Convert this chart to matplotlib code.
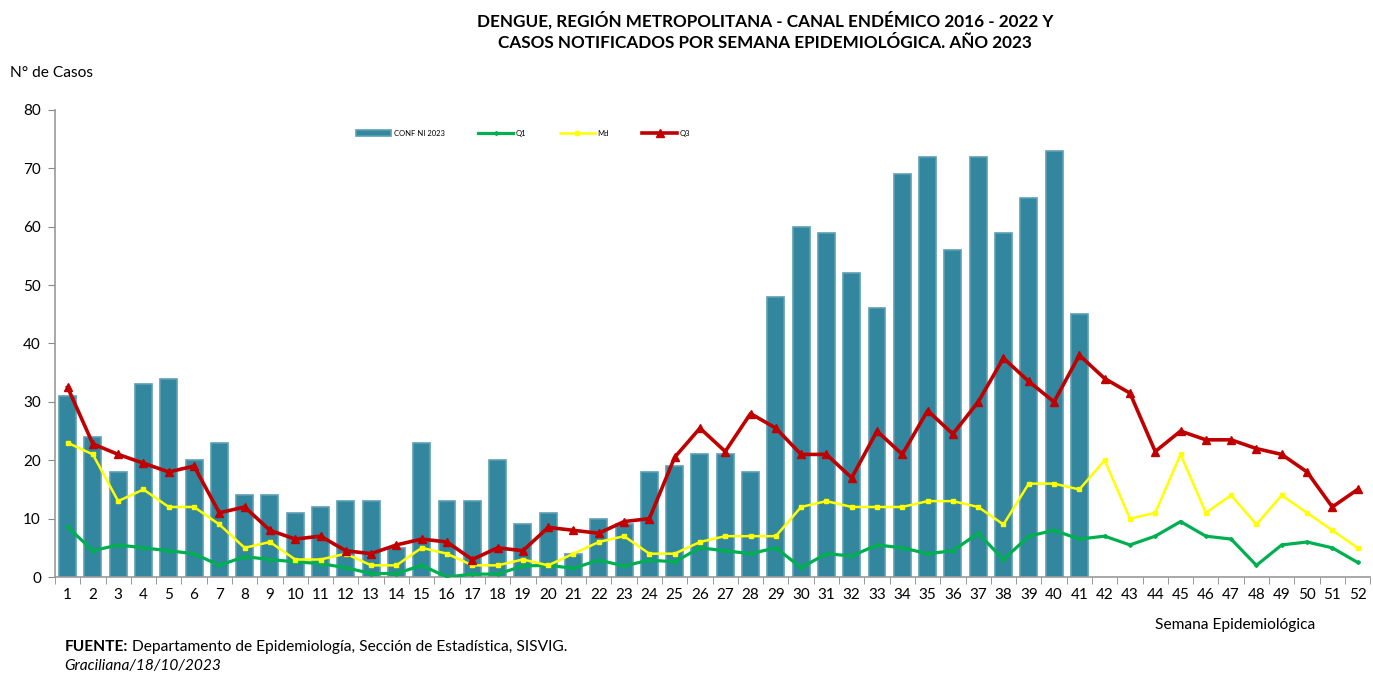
import matplotlib
matplotlib.use("Agg")
import matplotlib.pyplot as plt
import numpy as np

# ===== datos =====
semanas = list(range(1, 53))

# casos confirmados 2023 (semanas 1-41)
conf_2023 = [31, 24, 18, 33, 34, 20, 23, 14, 14, 11, 12, 13, 13, 5, 23, 13, 13, 20, 9, 11,
             4, 10, 9, 18, 19, 21, 21, 18, 48, 60, 59, 52, 46, 69, 72, 56, 72, 59, 65, 73, 45]

q1 = [8.6, 4.5, 5.5, 5, 4.5, 4, 2, 3.5, 3, 2.6, 2.3, 1.6, 0.6, 0.6, 2, 0, 0.5, 0.5, 1.9, 2,
      1.5, 2.9, 1.9, 2.9, 2.6, 5, 4.5, 4, 5, 1.6, 4, 3.6, 5.5, 5, 4, 4.5, 7.5, 3, 7, 8,
      6.5, 7, 5.5, 7, 9.5, 7, 6.5, 2, 5.5, 6, 5, 2.5]

md = [23, 21, 13, 15, 12, 12, 9, 5, 6, 3, 3, 4, 2, 2, 5, 4, 2, 2, 3, 2,
      4, 6, 7, 4, 4, 6, 7, 7, 7, 12, 13, 12, 12, 12, 13, 13, 12, 9, 16, 16,
      15, 20, 10, 11, 21, 11, 14, 9, 14, 11, 8, 5]

q3 = [32.5, 22.8, 21, 19.5, 18, 19, 11, 12, 8, 6.5, 7, 4.5, 4, 5.5, 6.5, 6, 3, 5, 4.5, 8.5,
      8, 7.5, 9.5, 10, 20.5, 25.5, 21.5, 28, 25.5, 21, 21, 17, 25, 21, 28.5, 24.5, 30, 37.5, 33.5, 30,
      38, 34, 31.5, 21.5, 25, 23.5, 23.5, 22, 21, 18, 12, 15]

# ===== fuente =====
plt.rcParams['font.family'] = ['Lato', 'DejaVu Sans']

fig = plt.figure(figsize=(13.73, 6.73), dpi=100)
ax = fig.add_axes([0.040, 0.1426, 0.958, 0.694])

x = np.array(semanas)
barras = ax.bar(x[:len(conf_2023)], conf_2023, width=0.67, color='#32869e', edgecolor='#5d9fb4',
                linewidth=1.2, zorder=2)

l1, = ax.plot(x, q1, color='#00b050', linewidth=2.3, marker='D', markersize=2, zorder=3)
l2, = ax.plot(x, md, color='#ffff00', linewidth=1.8, marker='s', markersize=3.5, zorder=4)
l3, = ax.plot(x, q3, color='#c00000', linewidth=2.6, marker='^', markersize=5.5, zorder=5)

# ejes
ax.set_xlim(0.5, 52.5)
ax.set_ylim(0, 80)
ax.set_yticks(range(0, 81, 10))
ax.set_xticks(semanas)
ax.set_xticks(np.arange(0.5, 53, 1), minor=True)
ax.tick_params(axis='x', which='major', length=0, labelsize=11, pad=8)
ax.tick_params(axis='x', which='minor', length=5, color='#888888', direction='out')
ax.tick_params(axis='y', length=5, color='#888888', labelsize=11, pad=5)
for s in ['top', 'right']:
    ax.spines[s].set_visible(False)
for s in ['left', 'bottom']:
    ax.spines[s].set_color('#999999')
    ax.spines[s].set_linewidth(1.2)

ax.legend([barras, l1, l2, l3], ['CONF NI 2023', 'Q1', 'Md', 'Q3'],
          loc='upper left', bbox_to_anchor=(0.229, 0.958), ncol=4, fontsize=5.5,
          frameon=False, handlelength=4.6, columnspacing=4.4, handletextpad=0.3,
          borderpad=0, borderaxespad=0)

# textos
fig.text(0.557, 0.970, 'DENGUE, REGIÓN METROPOLITANA - CANAL ENDÉMICO 2016 - 2022 Y',
         ha='center', va='center', fontsize=12.3, fontweight='bold')
fig.text(0.557, 0.936, 'CASOS NOTIFICADOS POR SEMANA EPIDEMIOLÓGICA. AÑO 2023',
         ha='center', va='center', fontsize=12.3, fontweight='bold')
fig.text(0.007, 0.891, 'N° de Casos', ha='left', va='center', fontsize=11.2)
fig.text(0.958, 0.071, 'Semana Epidemiológica', ha='right', va='center', fontsize=11.2)
t = fig.text(0.047, 0.033, 'FUENTE:', ha='left', va='baseline', fontsize=11.2, fontweight='bold')
ax.annotate(' Departamento de Epidemiología, Sección de Estadística, SISVIG.',
            xy=(1, 0), xycoords=t, ha='left', va='bottom', fontsize=11.2,
            annotation_clip=False)
fig.text(0.047, 0.011, 'Graciliana/18/10/2023', ha='left', va='center', fontsize=11.2, style='italic')

fig.savefig('out.png', dpi=100)
